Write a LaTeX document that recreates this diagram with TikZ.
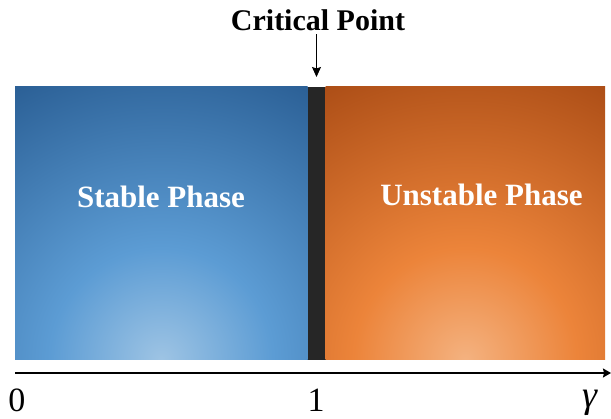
\documentclass[tikz,border=0pt]{standalone}
\usepackage{fontspec}
\setmainfont{Liberation Serif}
\usepackage{tikz}
\usetikzlibrary{arrows.meta,positioning,calc}
\definecolor{azulosc}{RGB}{40,92,146}
\definecolor{azulmed}{RGB}{92,156,212}
\definecolor{azulcla}{RGB}{158,196,228}
\definecolor{naranjaosc}{RGB}{168,74,20}
\definecolor{naranjamed}{RGB}{236,132,58}
\definecolor{naranjacla}{RGB}{244,178,128}
\definecolor{barra}{RGB}{38,38,38}
\pgfdeclareradialshading{azulrad}{\pgfpoint{0bp}{0bp}}{color(0bp)=(azulcla); color(4.5bp)=(azulmed); color(13bp)=(azulosc); color(25bp)=(azulosc); color(50bp)=(azulosc)}
\pgfdeclareradialshading{naranjarad}{\pgfpoint{0bp}{0bp}}{color(0bp)=(naranjacla); color(4.5bp)=(naranjamed); color(13bp)=(naranjaosc); color(25bp)=(naranjaosc); color(50bp)=(naranjaosc)}

\begin{document}
\begin{tikzpicture}[x=1pt,y=1pt,
phase/.style={minimum height=273pt,inner sep=0pt,outer sep=0pt},
stablebox/.style={phase,minimum width=292.5pt,fill=azulosc,
  path picture={\shade[shading=azulrad] (path picture bounding box.south) circle (620);}},
unstablebox/.style={phase,minimum width=279.5pt,fill=naranjaosc,
  path picture={\shade[shading=naranjarad] (path picture bounding box.south) circle (620);}},
phasetxt/.style={text=white,font=\bfseries\fontsize{31}{31}\selectfont},
arr/.style={-{Stealth[length=10pt,width=9pt,inset=1.5pt]},line width=0.8pt},
lbl/.style={font=\fontsize{34}{34}\selectfont}
]
\useasboundingbox (0,0) rectangle (611,419);
\node[stablebox] (s) at (161.25,195.5) {};
\node[minimum width=18pt,minimum height=273pt,inner sep=0pt,outer sep=0pt,fill=barra,right=0pt of s] (b) {};
\node[unstablebox,right=0pt of b] (u) {};
\node[phasetxt] (st) at (161,222) {Stable Phase};
\node[phasetxt] (ut) at (481.5,224) {Unstable Phase};
\node[font=\bfseries\fontsize{30}{30}\selectfont] (cp) at (318,399) {Critical Point};
\draw[arr] (cp.south -| b) -- ([yshift=10pt]b.north);
% eje
\coordinate (o) at (15,46);
\coordinate (f) at (611,46);
\draw[arr,line width=1.2pt,-{Stealth[length=8pt,width=9pt,inset=1pt]}] (o) -- (f);
\node[lbl] (cero) at (17,19) {0};
\node[lbl] (uno) at (316,19) {1};
\node[lbl,font=\itshape\fontsize{38}{38}\selectfont] (gam) at (590,16) {γ};
\end{tikzpicture}
\end{document}
